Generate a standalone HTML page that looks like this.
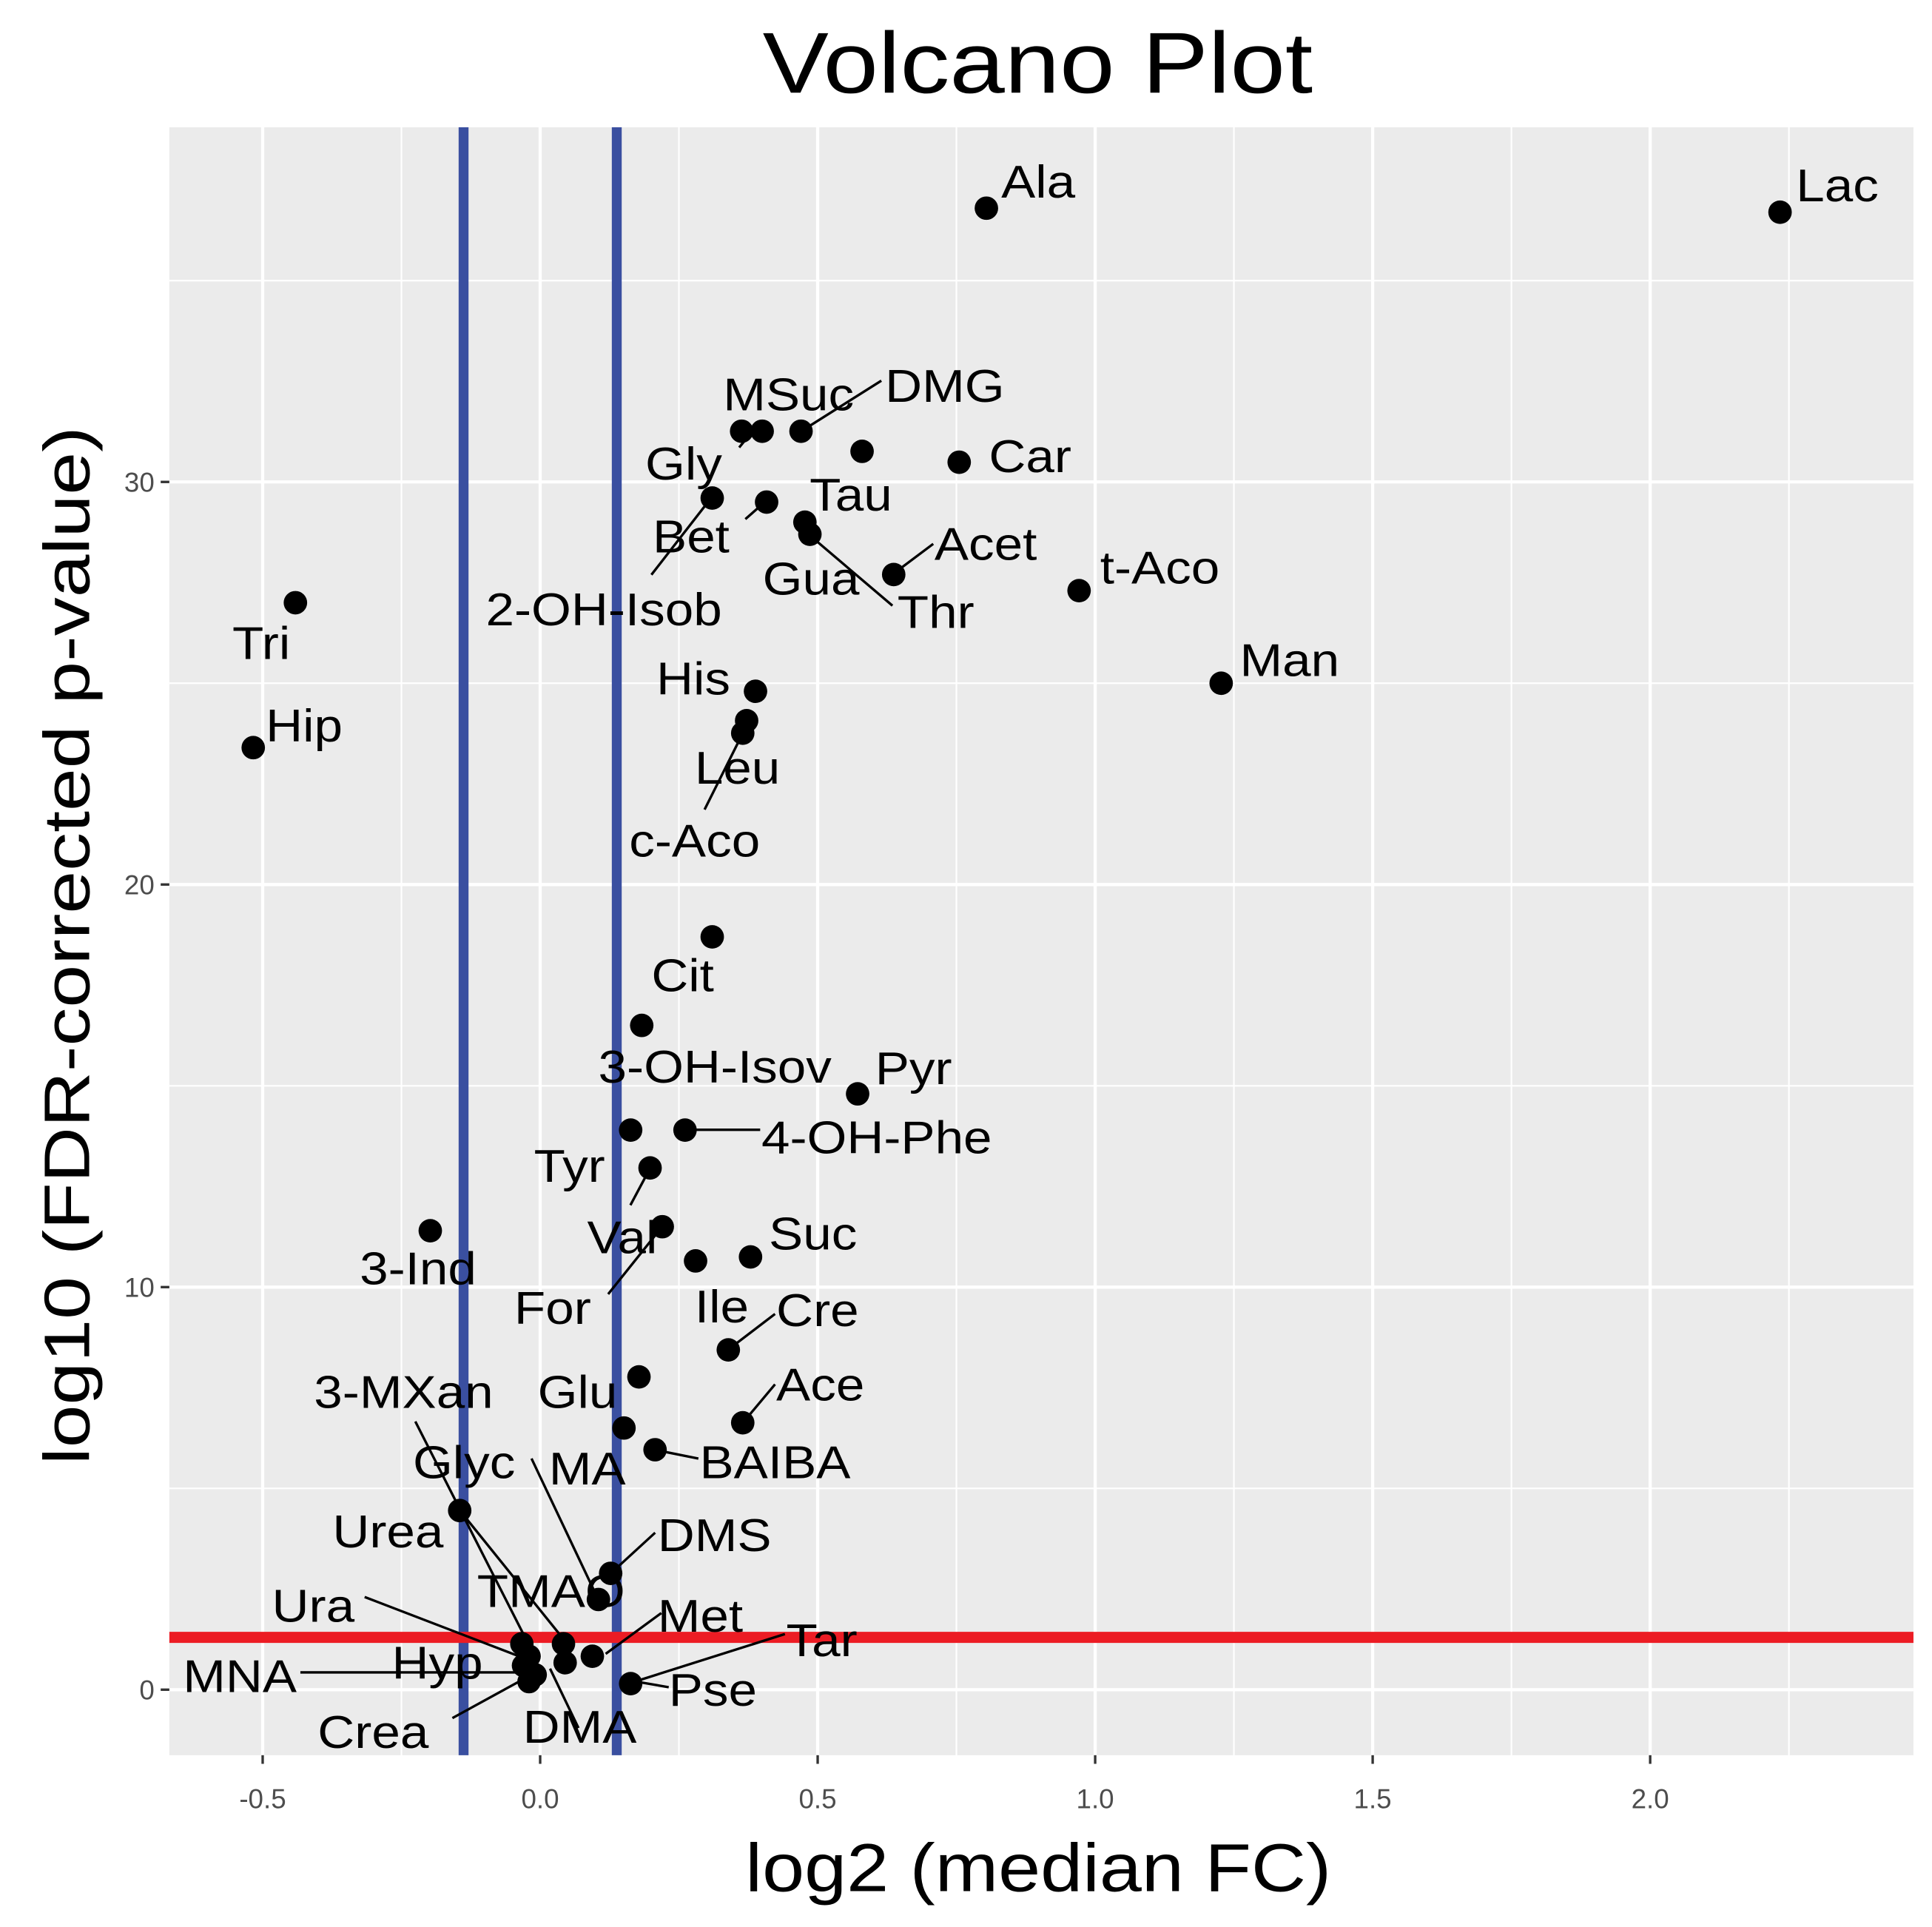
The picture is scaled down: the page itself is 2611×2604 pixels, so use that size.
<!DOCTYPE html>
<html><head><meta charset="utf-8"><style>
html,body{margin:0;padding:0;background:#fff}
svg{display:block}
text{font-family:"Liberation Sans",sans-serif}
</style></head><body>
<svg id="chart" width="2611" height="2604" viewBox="0 0 1563 1559" preserveAspectRatio="none" xmlns="http://www.w3.org/2000/svg">
<text x="617" y="75" font-size="70" textLength="445" lengthAdjust="spacingAndGlyphs" fill="#000">Volcano Plot</text>
<text x="603" y="1530" font-size="55" textLength="474" lengthAdjust="spacingAndGlyphs" fill="#000">log2 (median FC)</text>
<text x="0" y="0" font-size="52" textLength="840" lengthAdjust="spacingAndGlyphs" fill="#000" transform="translate(72,1185) rotate(-90)">log10 (FDR-corrected p-value)</text>
<g id="panel"></g>
</svg>
<script>
const xTicks=[-0.5,0,0.5,1,1.5,2];
const xTickLabels=["-0.5","0.0","0.5","1.0","1.5","2.0"];
const yTicks=[0,10,20,30];
const yTickLabels=["0","10","20","30"];
const xMinor=[-0.25,0.25,0.75,1.25,1.75,2.25];
const yMinor=[5,15,25,35];
const fcThreshold=[-0.138,0.138];
const pThreshold=[1.3];
const xs=[2.234,0.804,0.363,0.40,0.47,0.58,0.755,0.31,0.408,0.477,0.486,0.637,0.971,-0.441,1.227,0.388,0.372,0.365,-0.517,0.31,0.183,0.572,0.163,0.261,0.198,-0.198,0.22,0.28,0.379,0.339,0.178,0.365,0.151,0.207,-0.145,0.127,0.105,-0.033,-0.02,-0.009,-0.02,0.042,0.045,0.094,0.163,-0.03];
const ys=[36.7,36.8,31.26,31.26,31.26,30.76,30.49,29.6,29.5,29.0,28.7,27.7,27.3,27.0,25.0,24.8,24.07,23.76,23.4,18.7,16.5,14.8,13.9,13.9,12.96,11.4,11.5,10.65,10.75,8.44,7.77,6.63,6.5,5.96,4.45,2.89,2.24,1.14,0.83,0.37,0.2,1.14,0.67,0.83,0.15,0.6];
const labelNames=["Ala","Lac","MSuc","DMG","Car","Gly","Tau","Bet","Acet","Gua","t-Aco","Thr","2-OH-Isob","Tri","Man","His","Hip","Leu","c-Aco","Cit","3-OH-Isov","Pyr","4-OH-Phe","Tyr","Suc","Val","3-Ind","For","Ile","Cre","Ace","3-MXan","Glu","Glyc","MA","BAIBA","Urea","DMS","TMAO","Ura","Met","Tar","Hyp","MNA","Pse","Crea","DMA"];
const labelX=[810,1453,585,716,800,522,655,528,756,617,890,726,393,188,1003,531,215,562,509,527,484,708,616,432,622,475,291,416,562,628,628,254,435,334,444,566,269,532,386,220,532,636,317,148,541,257,423];
const labelY=[160,163,332,325,382,388,413,447,453,481,472,508,506,533,547,562,600,634,693,802,876,877,933,956,1011,1014,1039,1071,1070,1073,1133,1139,1139,1196,1201,1196,1252,1255,1300,1312,1320,1340,1358,1369,1380,1414,1410];
const segs=[[648,349,713,308],[598,362,612,345],[620,405,603,420],[576,402,527,465],[655,433,722,490],[723,464,755,440],[601,593,570,655],[526,945,510,975],[536,992,492,1047],[554,914,615,914],[589,1092,627,1063],[601,1151,627,1120],[530,1173,565,1180],[494,1273,530,1240],[484,1294,430,1180],[336,1150,430,1335],[372,1222,455,1325],[295,1292,420,1340],[535,1305,490,1338],[635,1322,515,1360],[243,1353,420,1353],[541,1365,512,1360],[366,1390,428,1356],[468,1398,445,1350]];
const L=137,R=1548,T=103,B=1420;
const X=v=>437+v*449, Y=v=>1367-v*32.57;
const NS="http://www.w3.org/2000/svg";
const g=document.getElementById('panel');
function mk(tag,attrs,parent){const e=document.createElementNS(NS,tag);for(const k in attrs)e.setAttribute(k,attrs[k]);(parent||g).appendChild(e);return e;}
let e=mk('rect',{x:L,y:T,width:R-L,height:B-T,fill:'#ebebeb'});


xMinor.forEach(v=>{const l=mk('line',{x1:X(v),x2:X(v),y1:T,y2:B,stroke:'#fff','stroke-width':1.3});

});
yMinor.forEach(v=>{const l=mk('line',{x1:L,x2:R,y1:Y(v),y2:Y(v),stroke:'#fff','stroke-width':1.3});

});
xTicks.forEach((v,i)=>{const l=mk('line',{x1:X(v),x2:X(v),y1:T,y2:B,stroke:'#fff','stroke-width':2.6});


const t=mk('line',{x1:X(v),x2:X(v),y1:B,y2:B+7,stroke:'#333','stroke-width':2});


const tx=mk('text',{x:X(v),y:B+43,'font-size':22,'text-anchor':'middle',fill:'#4d4d4d'});tx.textContent=xTickLabels[i];

});
yTicks.forEach((v,i)=>{const l=mk('line',{x1:L,x2:R,y1:Y(v),y2:Y(v),stroke:'#fff','stroke-width':2.6});


const t=mk('line',{x1:L-7,x2:L,y1:Y(v),y2:Y(v),stroke:'#333','stroke-width':2});


const tx=mk('text',{x:L-12,y:Y(v)+8,'font-size':22,'text-anchor':'end',fill:'#4d4d4d'});tx.textContent=yTickLabels[i];

});
fcThreshold.forEach(v=>{const l=mk('line',{x1:X(v),x2:X(v),y1:T,y2:B,stroke:'#3a4fa0','stroke-width':8});

});
pThreshold.forEach(v=>{const l=mk('line',{x1:L,x2:R,y1:Y(v),y2:Y(v),stroke:'#ec1c24','stroke-width':9});

});
segs.forEach(s=>{const l=mk('line',{x1:s[0],y1:s[1],x2:s[2],y2:s[3],stroke:'#000','stroke-width':2});

});
xs.forEach((v,i)=>{const c=mk('circle',{cx:X(v),cy:Y(ys[i]),r:9.5,fill:'#000'});

});
labelNames.forEach((n,i)=>{const t=mk('text',{x:labelX[i],y:labelY[i],'font-size':37,fill:'#000'});t.textContent=n;


const w=t.getComputedTextLength();
if(w>0){t.setAttribute('textLength',(w*1.12).toFixed(1));t.setAttribute('lengthAdjust','spacingAndGlyphs');}});
</script>
</body></html>
